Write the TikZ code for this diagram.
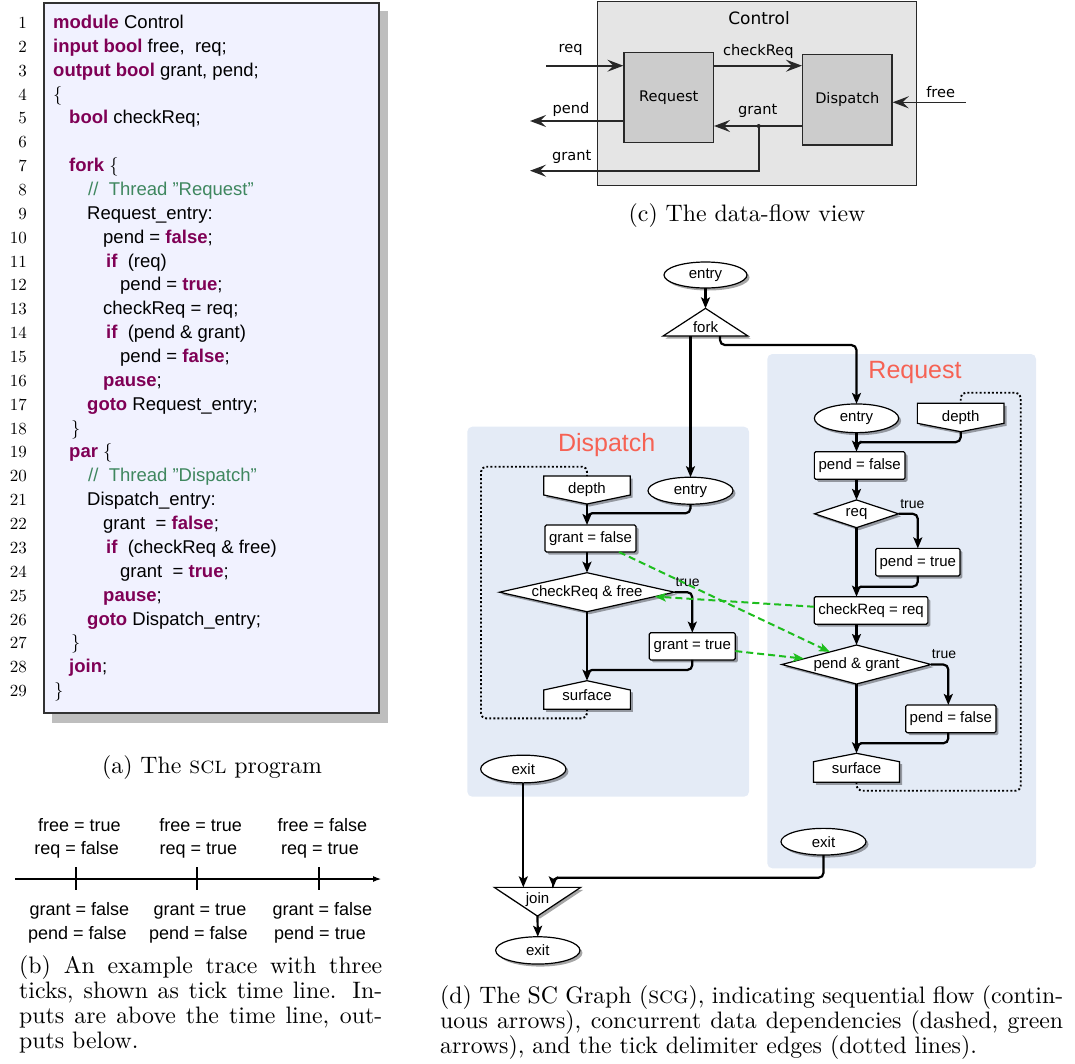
\documentclass[tikz,border=0pt]{standalone}
\usepackage{fontspec}
\newfontfamily\sansfont{Liberation Sans}
\newfontfamily\dvfont{DejaVu Sans}
\newfontfamily\capfont{lmroman10-regular}[Extension=.otf,SmallCapsFont=lmromancaps10-regular]
\usetikzlibrary{arrows.meta,shapes.geometric,shadows,calc}

\definecolor{kwcol}{RGB}{127,0,85}
\definecolor{cmtcol}{RGB}{63,135,95}
\definecolor{codebg}{RGB}{241,242,255}
\definecolor{codeframe}{RGB}{50,50,50}
\definecolor{codeshadow}{RGB}{190,190,190}
\definecolor{regionbg}{RGB}{228,235,246}
\definecolor{titlecol}{RGB}{246,98,84}
\definecolor{depgreen}{RGB}{30,190,30}
\definecolor{dfouterbg}{RGB}{229,229,229}
\definecolor{dfinnerbg}{RGB}{204,204,204}
\definecolor{dfline}{RGB}{40,40,40}

\newcommand\kw[1]{\textcolor{kwcol}{\bfseries #1}}
\newcommand\cmt[1]{\textcolor{cmtcol}{#1}}
\newcommand\opbrace{{\capfont\{}}
\newcommand\clbrace{{\capfont\}}}
% one numbered line of the listing: number, indent x, text
\newcommand\codeln[3]{%
  \node[lineno] (num#1) at (27,{28.5+(#1-1)*23.86}) {#1};
  \node[codetxt] (code#1) at (#2,{28.5+(#1-1)*23.86}) {#3};}
\newcommand\numonly[1]{%
  \node[lineno] (num#1) at (27,{28.5+(#1-1)*23.86}) {#1};}

\pgfdeclarelayer{regions}
\pgfdeclarelayer{polys}
\pgfsetlayers{regions,polys,main}

\tikzset{
  lineno/.style={font=\capfont\fontsize{17}{20}\selectfont, anchor=base east, inner sep=0pt},
  codetxt/.style={font=\sansfont\fontsize{18.5}{22}\selectfont, anchor=base west, inner sep=0pt},
  capstyle/.style={font=\capfont\fontsize{23.8}{25}\selectfont, inner sep=0pt},
  tracelab/.style={font=\sansfont\fontsize{18}{20}\selectfont, anchor=base, inner sep=0pt},
  dffont/.style={font=\dvfont\fontsize{14.6}{17}\selectfont},
  dfouter/.style={rectangle, fill=dfouterbg, draw=dfline, line width=1.4pt, inner sep=0pt},
  dfinner/.style={dffont, rectangle, fill=dfinnerbg, draw=dfline, line width=1.4pt, inner sep=0pt},
  dfarrow/.style={draw=dfline, line width=1.6pt, -{Stealth[length=16pt,width=12pt,inset=6pt]}},
  dflab/.style={dffont, inner sep=0pt},
  shad/.style={drop shadow={shadow xshift=2.5pt, shadow yshift=-2.5pt, opacity=0.35, fill=black}},
  scgfont/.style={font=\sansfont\fontsize{15}{17}\selectfont},
  stmt/.style={scgfont, rectangle, draw, fill=white, line width=1.2pt, rounded corners=1.5pt, inner sep=0pt, outer sep=0pt, shad},
  oval/.style={scgfont, ellipse, draw, fill=white, line width=1.2pt, inner sep=0pt, outer sep=0pt, shad},
  condnode/.style={scgfont, diamond, draw, fill=white, line width=1.2pt, inner sep=0pt, outer sep=0pt, shad},
  shapebox/.style={scgfont, rectangle, draw=none, inner sep=0pt, outer sep=0pt},
  polyfill/.style={draw, fill=white, line width=1.2pt, line join=miter, shad},
  flow/.style={line width=2.2pt, rounded corners=5pt, -{Stealth[length=11pt,width=9pt,inset=2.5pt]}},
  flowline/.style={line width=2.2pt, rounded corners=5pt},
  depedge/.style={draw=depgreen, line width=2pt, dash pattern=on 7pt off 4pt, -{Stealth[length=11pt,width=8.5pt,inset=2.5pt]}},
  tickedge/.style={line width=1.9pt, dash pattern=on 1.9pt off 2.2pt, rounded corners=5pt},
  threadregion/.style={fill=regionbg, draw=none, rounded corners=5pt},
  regiontitle/.style={font=\sansfont\fontsize{25}{28}\selectfont, text=titlecol, inner sep=0pt},
  truelab/.style={font=\sansfont\fontsize{14}{16}\selectfont, inner sep=0pt},
}

\begin{document}
\begin{tikzpicture}[x=1pt,y=-1pt]
\useasboundingbox (0,0) rectangle (1075,1063);

% ================= (a) SCL listing =================
\fill[codeshadow] (52,11) rectangle (388,723);
\filldraw[fill=codebg, draw=codeframe, line width=1.3pt] (44,3) rectangle (379,713);
\codeln{1}{53}{\kw{module} Control}
\codeln{2}{53}{\kw{input bool} free,\ \ req;}
\codeln{3}{53}{\kw{output bool} grant, pend;}
\codeln{4}{53}{\opbrace}
\codeln{5}{69}{\kw{bool} checkReq;}
\numonly{6}
\codeln{7}{69}{\kw{fork} \opbrace}
\codeln{8}{88}{\cmt{//\ \ Thread ”Request”}}
\codeln{9}{87}{Request\_entry:}
\codeln{10}{103}{pend = \kw{false};}
\codeln{11}{106}{\kw{if}\ \ (req)}
\codeln{12}{120}{pend = \kw{true};}
\codeln{13}{103}{checkReq = req;}
\codeln{14}{106}{\kw{if}\ \ (pend \& grant)}
\codeln{15}{120}{pend = \kw{false};}
\codeln{16}{103}{\kw{pause};}
\codeln{17}{87}{\kw{goto} Request\_entry;}
\codeln{18}{71}{\clbrace}
\codeln{19}{69}{\kw{par} \opbrace}
\codeln{20}{88}{\cmt{//\ \ Thread ”Dispatch”}}
\codeln{21}{87}{Dispatch\_entry:}
\codeln{22}{103}{grant\ \ = \kw{false};}
\codeln{23}{106}{\kw{if}\ \ (checkReq \& free)}
\codeln{24}{120}{grant\ \ = \kw{true};}
\codeln{25}{103}{\kw{pause};}
\codeln{26}{87}{\kw{goto} Dispatch\_entry;}
\codeln{27}{71}{\clbrace}
\codeln{28}{69}{\kw{join};}
\codeln{29}{54}{\clbrace}
\node[capstyle, anchor=base] (capa) at (212,773) {(a) The \textsc{scl} program};

% ================= (b) tick time line =================
\coordinate (axstart) at (15,879);
\coordinate (axend) at (381,879);
\draw[line width=1.1pt, -{Latex[length=8pt,width=6pt]}] (axstart) -- (axend);
\foreach \tx in {76,197,319} \draw[line width=1.1pt] (\tx,867.3) -- (\tx,890);
\node[tracelab] (in1a) at (79.3,831.3) {free = true};
\node[tracelab] (in1b) at (76.7,854.6) {req = false};
\node[tracelab] (in2a) at (200.7,831.3) {free = true};
\node[tracelab] (in2b) at (198.3,854.6) {req = true};
\node[tracelab] (in3a) at (322.3,831.3) {free = false};
\node[tracelab] (in3b) at (320,854.6) {req = true};
\node[tracelab] (out1a) at (79.3,915.3) {grant = false};
\node[tracelab] (out1b) at (77.3,939.6) {pend = false};
\node[tracelab] (out2a) at (200,915.3) {grant = true};
\node[tracelab] (out2b) at (198.3,939.6) {pend = false};
\node[tracelab] (out3a) at (322.3,915.3) {grant = false};
\node[tracelab] (out3b) at (320,939.6) {pend = true};
\node[capstyle, anchor=base west] (capb1) at (19,973) {\makebox[363pt][s]{(b) An example trace with three}};
\node[capstyle, anchor=base west] (capb2) at (19,998) {\makebox[363pt][s]{ticks, shown as tick time line. In-}};
\node[capstyle, anchor=base west] (capb3) at (19,1023) {\makebox[363pt][s]{puts are above the time line, out-}};
\node[capstyle, anchor=base west] (capb4) at (19,1048) {puts below.};

% ================= (c) data-flow view =================
\node[dfouter, minimum width=319pt, minimum height=184pt] (dfctl) at (757.2,93.7) {};
\node[dffont, font=\dvfont\fontsize{17}{20}\selectfont, inner sep=0pt] (dfctltitle) at (759,18.3) {Control};
\node[dfinner, minimum width=89.3pt, minimum height=90pt] (dfreq) at (668.7,97.7) {Request};
\node[dfinner, minimum width=89.3pt, minimum height=90.7pt] (dfdisp) at (847.3,99.7) {Dispatch};
\coordinate (reqin) at (546,65.7);
\coordinate (freein) at (965.7,102.3);
\coordinate (pendout) at (530,121);
\coordinate (gdot) at (758.7,126);
\coordinate (grantout) at (530,170.7);
\draw[dfarrow] (reqin) -- (reqin -| dfreq.west);
\draw[dfarrow] (dfreq.east |- reqin) -- (dfdisp.west |- reqin);
\draw[dfarrow] (freein) -- (freein -| dfdisp.east);
\draw[dfarrow] (dfreq.west |- pendout) -- (pendout);
\draw[dfarrow] (dfdisp.west |- gdot) -- (dfreq.east |- gdot);
\draw[dfarrow] (gdot) |- (grantout);
\fill[dfline] (gdot) circle (2pt);
\node[dflab] (lreq) at (570.7,50) {req};
\node[dflab] (lcheck) at (758.3,51.5) {checkReq};
\node[dflab] (lfree) at (940.7,92) {free};
\node[dflab] (lpend) at (571,109) {pend};
\node[dflab] (lgrant) at (757.7,111) {grant};
\node[dflab] (lgrantout) at (571.7,156.7) {grant};
\node[capstyle, anchor=base] (capc) at (747,221) {(c) The data-flow view};

% ================= (d) SC graph =================
\begin{pgfonlayer}{regions}
  \fill[threadregion] (467.3,426.7) rectangle (749,796.7);
  \fill[threadregion] (767.3,354) rectangle (1036,868.3);
\end{pgfonlayer}
\node[regiontitle] (titleD) at (606.7,445) {Dispatch};
\node[regiontitle] (titleR) at (915,372.3) {Request};

% top level
\node[oval, minimum width=83pt, minimum height=26pt] (entry) at (705.5,275) {entry};
\node[shapebox, minimum width=85pt, minimum height=27.7pt, text height=20pt, text depth=0pt] (fork) at (705.5,322.2) {fork};
\node[shapebox, minimum width=86.4pt, minimum height=28.7pt, text height=10pt, text depth=7.4pt] (join) at (537.5,901.7) {join};
\node[oval, minimum width=84.3pt, minimum height=27.3pt] (exit) at (537.8,950.4) {exit};

% Dispatch thread
\node[oval, minimum width=85pt, minimum height=27pt] (dentry) at (690.5,490.7) {entry};
\node[shapebox, minimum width=86.4pt, minimum height=28pt] (ddepth) at (587,490) {depth};
\node[stmt, minimum width=91pt, minimum height=27pt] (gf) at (590.5,538.5) {grant = false};
\node[condnode, aspect=4.5, minimum width=175pt, minimum height=39pt] (cf) at (587,592.2) {checkReq \& free};
\node[stmt, minimum width=86pt, minimum height=27.3pt] (gt) at (692.3,646.3) {grant = true};
\node[shapebox, minimum width=86.7pt, minimum height=28.6pt] (dsurf) at (587,695) {surface};
\node[oval, minimum width=85.3pt, minimum height=27.7pt] (dexit) at (523.3,769) {exit};

% Request thread
\node[oval, minimum width=84.3pt, minimum height=28.7pt] (rentry) at (856.5,418.3) {entry};
\node[shapebox, minimum width=86.7pt, minimum height=28.4pt] (rdepth) at (960.7,417.5) {depth};
\node[stmt, minimum width=90.7pt, minimum height=27.6pt] (pf) at (859.7,465.5) {pend = false};
\node[condnode, aspect=3, minimum width=84pt, minimum height=27.7pt] (rq) at (856.5,513.8) {req};
\node[stmt, minimum width=84.3pt, minimum height=27.7pt] (pt) at (917.8,562.2) {pend = true};
\node[stmt, minimum width=113.7pt, minimum height=27.5pt] (cr) at (871,610.4) {checkReq = req};
\node[condnode, aspect=3.6, minimum width=149.3pt, minimum height=39pt] (pg) at (856.5,664.5) {pend \& grant};
\node[stmt, minimum width=90.3pt, minimum height=27.7pt] (pf2) at (950.8,718.8) {pend = false};
\node[shapebox, minimum width=86pt, minimum height=29pt] (rsurf) at (856.5,767.8) {surface};
\node[oval, minimum width=85pt, minimum height=26.7pt] (rexit) at (823.5,841.7) {exit};

% outlines of fork, join, depth and surface
\begin{pgfonlayer}{polys}
  \path[polyfill] (fork.north) -- (fork.south east) -- (fork.south west) -- cycle;
  \path[polyfill] (join.north west) -- (join.north east) -- (join.south) -- cycle;
  \path[polyfill] (ddepth.north west) -- (ddepth.north east) -- ($(ddepth.north east)+(0,19)$)
        -- (ddepth.south) -- ($(ddepth.north west)+(0,19)$) -- cycle;
  \path[polyfill] (rdepth.north west) -- (rdepth.north east) -- ($(rdepth.north east)+(0,20)$)
        -- (rdepth.south) -- ($(rdepth.north west)+(0,20)$) -- cycle;
  \path[polyfill] (dsurf.north) -- ($(dsurf.north east)+(0,9.3)$) -- (dsurf.south east)
        -- (dsurf.south west) -- ($(dsurf.north west)+(0,9.3)$) -- cycle;
  \path[polyfill] (rsurf.north) -- ($(rsurf.north east)+(0,8.4)$) -- (rsurf.south east)
        -- (rsurf.south west) -- ($(rsurf.north west)+(0,8.4)$) -- cycle;
\end{pgfonlayer}

% sequential flow
\draw[flow] (entry.south) -- (fork.north);
\draw[flow] (fork.south -| dentry.north) -- (dentry.north);
\draw[flow] ($(fork.south)+(14.5,0)$) -- ++(0,9) -| (rentry.north);

\coordinate (rm1) at ($(rentry.south)!0.5!(rentry.south |- pf.north)$);
\draw[flow] (rentry.south) -- (rentry.south |- pf.north);
\draw[flowline] (rdepth.south) |- (rm1) -- ++(0,5);
\draw[flow] (rentry.south |- pf.south) -- (rq.north);
\draw[flow] (rq.east) -| (pt.north);
\draw[flow] (rq.south) -- (rq.south |- cr.north);
\coordinate (rm2) at ($(rq.south |- cr.north)+(0,-10)$);
\draw[flowline] (pt.south) |- (rm2) -- ++(0,5);
\draw[flow] (rq.south |- cr.south) -- (pg.north);
\draw[flow] (pg.east) -| ($(pf2.north)+(-2.5,0)$);
\coordinate (rm3) at ($(rsurf.north)+(0,-10)$);
\draw[flowline] ($(pf2.south)+(-2.5,0)$) |- (rm3) -- ++(0,5);
\draw[flow] (pg.south) -- (rsurf.north);

\coordinate (dm1) at ($(ddepth.south |- gf.north)+(0,-11.7)$);
\draw[flowline] (dentry.south) |- (dm1) -- ++(0,5);
\draw[flow] (ddepth.south) -- (ddepth.south |- gf.north);
\draw[flow] (ddepth.south |- gf.south) -- (cf.north);
\draw[flow] (cf.east) -| (gt.north);
\coordinate (dm2) at ($(dsurf.north)+(0,-10.7)$);
\draw[flowline] (gt.south) |- (dm2) -- ++(0,5);
\draw[flow] (cf.south) -- (dsurf.north);

\draw[flow] (dexit.south) -- (dexit.south |- join.north);
\draw[flow] (rexit.south) |- ($(join.north)+(15.8,-9.6)$) -- ($(join.north)+(15.8,0)$);
\draw[flow] (join.south) -- (exit.north);

\node[truelab] (trueR1) at (912.3,504) {true};
\node[truelab] (trueD) at (687.7,581.7) {true};
\node[truelab] (trueR2) at (944,654) {true};

% tick delimiter edges
\draw[tickedge] (dsurf.south) -- ++(0,9) -- ++(-106,0) |- ($(ddepth.north)+(0,-9.3)$) -- (ddepth.north);
\draw[tickedge] (rsurf.south) -- ++(0,8.4) -- ++(164.2,0) |- ($(rdepth.north)+(0,-10.6)$) -- (rdepth.north);

% concurrent data dependencies
\draw[depedge] (gf) -- (pg);
\draw[depedge] (gt) -- (pg);
\draw[depedge] (cr) -- (cf);

\node[capstyle, anchor=base west] (capd1) at (440,1003) {\makebox[623pt][s]{(d) The SC Graph (\textsc{scg}), indicating sequential flow (contin-}};
\node[capstyle, anchor=base west] (capd2) at (440,1028) {\makebox[623pt][s]{uous arrows), concurrent data dependencies (dashed, green}};
\node[capstyle, anchor=base west] (capd3) at (440,1053) {arrows), and the tick delimiter edges (dotted lines).};
\end{tikzpicture}
\end{document}
